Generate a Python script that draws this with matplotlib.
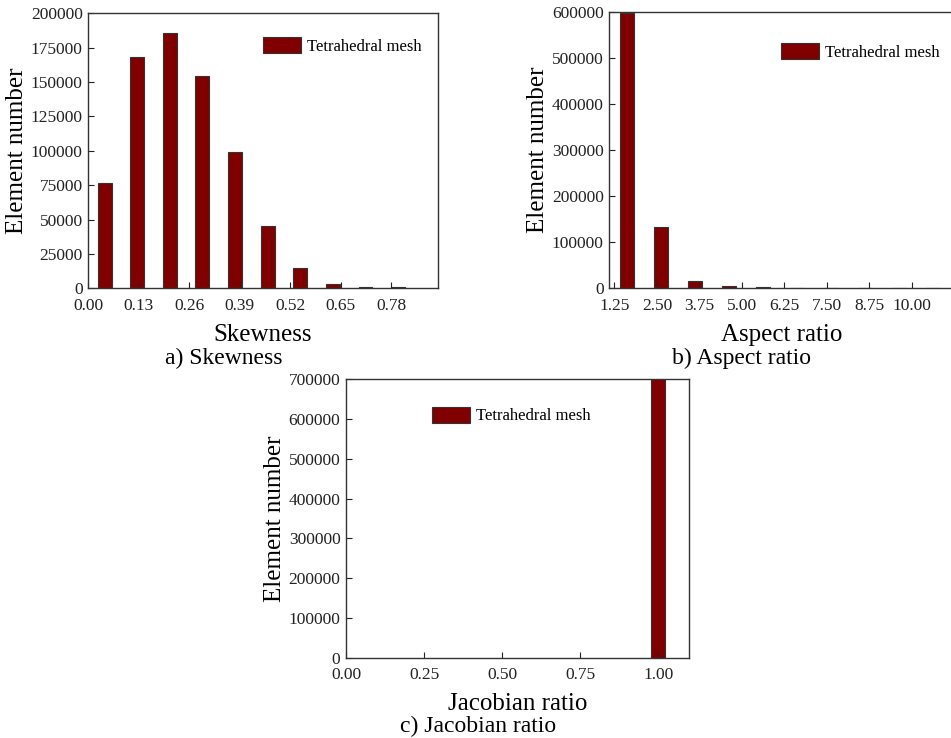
import matplotlib

matplotlib.use("Agg")
import matplotlib.pyplot as plt  # noqa: E402

plt.rcParams["font.family"] = ["Liberation Serif", "DejaVu Serif"]

BAR_COLOR = "#800000"

# a) skewness histogram
skew_bins = [0.042, 0.126, 0.210, 0.294, 0.378, 0.462, 0.546, 0.630, 0.714, 0.798]
skew_counts = [76600, 168200, 186000, 154200, 99100, 45600, 14800, 3400, 1000, 700]
skew_ticks = [0.00, 0.13, 0.26, 0.39, 0.52, 0.65, 0.78]
skew_yticks = [0, 25000, 50000, 75000, 100000, 125000, 150000, 175000, 200000]

# b) aspect ratio histogram
aspect_bins = [1.62, 2.62, 3.62, 4.62, 5.62, 6.62, 7.62, 8.62, 9.62, 10.62]
aspect_counts = [598000, 132300, 15800, 5000, 2000, 1500, 1200, 1000, 900, 800]
aspect_ticks = [1.25, 2.50, 3.75, 5.00, 6.25, 7.50, 8.75, 10.00]
aspect_yticks = [0, 100000, 200000, 300000, 400000, 500000, 600000]

# c) jacobian ratio histogram
jac_bins = [1.00]
jac_counts = [750000]
jac_ticks = [0.00, 0.25, 0.50, 0.75, 1.00]
jac_yticks = [0, 100000, 200000, 300000, 400000, 500000, 600000, 700000]

W, H = 951, 738


def _axes(fig, left, top, right, bottom):
    return fig.add_axes([left / W, 1 - bottom / H, (right - left) / W, (bottom - top) / H])


def _style(ax, xticks, yticks, xlim, ylim, xlabel, legend_anchor):
    ax.set_xlim(*xlim)
    ax.set_ylim(*ylim)
    ax.set_xticks(xticks)
    ax.set_xticklabels([f"{t:.2f}" for t in xticks])
    ax.set_yticks(yticks)
    ax.set_yticklabels([str(t) for t in yticks])
    ax.tick_params(direction="in", length=4, width=0.8, labelsize=12.5, pad=4, colors="#222222")
    ax.tick_params(axis="x", pad=7)
    for sp in ax.spines.values():
        sp.set_linewidth(1.0)
        sp.set_color("#333333")
    ax.set_xlabel(xlabel, fontsize=18, labelpad=7)
    ax.set_ylabel("Element number", fontsize=18, labelpad=2)
    ax.legend(
        loc="upper left",
        bbox_to_anchor=legend_anchor,
        frameon=False,
        fontsize=12,
        handlelength=2.3,
        handleheight=1.1,
        handletextpad=0.35,
        borderpad=0,
        borderaxespad=0,
    )


fig = plt.figure(figsize=(W / 100, H / 100), dpi=100)

ax_a = _axes(fig, 88.3, 13.3, 437.7, 288.3)
ax_a.bar(skew_bins, skew_counts, width=0.036, color=BAR_COLOR, edgecolor="#333333", linewidth=0.8,
         label="Tetrahedral mesh")
_style(ax_a, skew_ticks, skew_yticks, (0, 0.9), (0, 200000), "Skewness", (0.5, 0.914))

ax_b = _axes(fig, 609.3, 11.7, 954.4, 288.3)
ax_b.bar(aspect_bins, aspect_counts, width=0.43, color=BAR_COLOR, edgecolor="#333333", linewidth=0.8,
         label="Tetrahedral mesh")
_style(ax_b, aspect_ticks, aspect_yticks, (1.10, 11.25), (0, 600000), "Aspect ratio", (0.497, 0.887))

ax_c = _axes(fig, 346, 379.3, 689.3, 657.7)
ax_c.bar(jac_bins, jac_counts, width=0.043, color=BAR_COLOR, edgecolor="#333333", linewidth=0.8,
         label="Tetrahedral mesh")
_style(ax_c, jac_ticks, jac_yticks, (0, 1.1), (0, 700000), "Jacobian ratio", (0.25, 0.902))

fig.text(224 / W, 1 - 358 / H, "a) Skewness", fontsize=17, ha="center", va="center")
fig.text(742 / W, 1 - 358 / H, "b) Aspect ratio", fontsize=17, ha="center", va="center")
fig.text(478 / W, 1 - 726 / H, "c) Jacobian ratio", fontsize=17, ha="center", va="center")

fig.savefig("out.png", dpi=100)
plt.close(fig)
